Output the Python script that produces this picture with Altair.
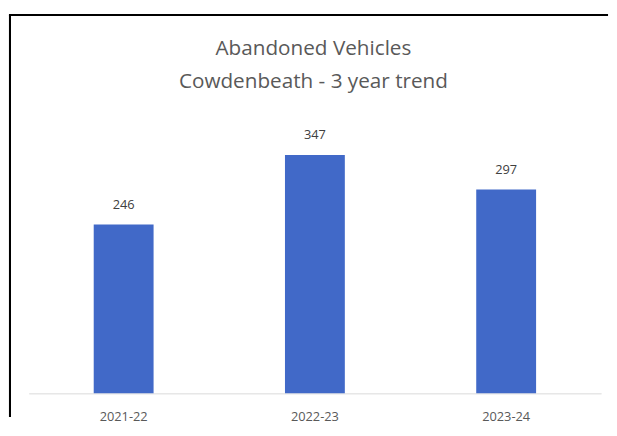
import altair as alt
import pandas as pd

years = ["2021-22", "2022-23", "2023-24"]
counts = [246, 347, 297]
title_lines = ["Abandoned Vehicles", "Cowdenbeath - 3 year trend"]

df = pd.DataFrame({"year": years, "count": counts})

x = alt.X("year:N", sort=years, title=None,
          scale=alt.Scale(paddingInner=0.687, paddingOuter=0.34),
          axis=alt.Axis(labelAngle=0, ticks=False, domainColor="#d9d9d9",
                        labelColor="#595959", labelFont="Open Sans",
                        labelFontSize=13, labelPadding=18))
y = alt.Y("count:Q", scale=alt.Scale(domain=[0, 396]), axis=None)

base = alt.Chart(df).encode(x=x, y=y)

bars = base.mark_bar(color="#4169C8")
labels = base.mark_text(dy=-20, font="Open Sans", fontSize=13, color="#404040").encode(text="count:Q")

tdf = pd.DataFrame({"line": title_lines, "yy": [-73, -40]})
title = alt.Chart(tdf).mark_text(font="Open Sans", fontSize=21, color="#595959").encode(
    text="line:N", x=alt.value(289), y=alt.Y("yy:Q", scale=None, axis=None)
)

top_border = alt.Chart(df).mark_rule(color="#000000", strokeWidth=2).encode(
    x=alt.value(-20), x2=alt.value(588), y=alt.value(-108))
left_border = alt.Chart(df).mark_rule(color="#000000", strokeWidth=2).encode(
    x=alt.value(-19), y=alt.value(-108), y2=alt.value(300))

chart = alt.layer(bars, labels, title, top_border, left_border).properties(
    width=581, height=276,
    padding={"left": 0, "top": 3, "right": 0, "bottom": 0},
    background="white",
).configure_view(stroke=None)

chart.save("out.html", embed_options={"renderer": "svg", "actions": False})
